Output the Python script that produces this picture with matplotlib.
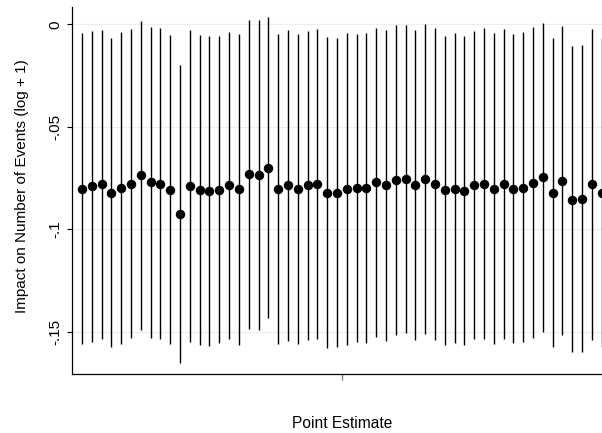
import numpy as np
import matplotlib
matplotlib.use('Agg')
import matplotlib.pyplot as plt

plt.rcParams['font.family'] = ['Liberation Sans', 'DejaVu Sans']

# Point estimates and confidence bounds
estimate = [-0.0802, -0.0791, -0.0781, -0.0822, -0.0799, -0.0778, -0.0737, -0.0770, -0.0778, -0.0807,
            -0.0927, -0.0789, -0.0809, -0.0812, -0.0807, -0.0786, -0.0805, -0.0732, -0.0735, -0.0700,
            -0.0804, -0.0784, -0.0804, -0.0786, -0.0779, -0.0822, -0.0822, -0.0804, -0.0800, -0.0800,
            -0.0771, -0.0786, -0.0761, -0.0755, -0.0786, -0.0757, -0.0779, -0.0810, -0.0802, -0.0812,
            -0.0784, -0.0778, -0.0802, -0.0778, -0.0802, -0.0797, -0.0773, -0.0745, -0.0822, -0.0763,
            -0.0856, -0.0854, -0.0781, -0.0822]
upper = [-0.0041, -0.0031, -0.0028, -0.0068, -0.0037, -0.0023, 0.0016, -0.0013, -0.0020, -0.0054,
         -0.0200, -0.0029, -0.0050, -0.0055, -0.0055, -0.0037, -0.0047, 0.0021, 0.0020, 0.0034,
         -0.0046, -0.0028, -0.0046, -0.0033, -0.0024, -0.0060, -0.0067, -0.0044, -0.0046, -0.0044,
         -0.0018, -0.0028, -0.0005, -0.0002, -0.0029, 0.0000, -0.0020, -0.0055, -0.0042, -0.0057,
         -0.0033, -0.0020, -0.0044, -0.0023, -0.0049, -0.0039, -0.0015, 0.0008, -0.0067, -0.0008,
         -0.0107, -0.0102, -0.0023, -0.0068]
lower = [-0.1562, -0.1552, -0.1536, -0.1573, -0.1559, -0.1533, -0.1492, -0.1529, -0.1537, -0.1560,
         -0.1653, -0.1550, -0.1563, -0.1570, -0.1557, -0.1537, -0.1563, -0.1485, -0.1493, -0.1435,
         -0.1559, -0.1544, -0.1562, -0.1541, -0.1536, -0.1581, -0.1573, -0.1563, -0.1552, -0.1554,
         -0.1526, -0.1546, -0.1516, -0.1506, -0.1542, -0.1510, -0.1539, -0.1567, -0.1557, -0.1565,
         -0.1537, -0.1536, -0.1559, -0.1534, -0.1555, -0.1550, -0.1529, -0.1502, -0.1576, -0.1516,
         -0.1602, -0.1602, -0.1539, -0.1573]
yticks = [0, -0.05, -0.1, -0.15]
ytick_labels = ['0', '-.05', '-.1', '-.15']

x = np.arange(1, len(estimate) + 1)

fig = plt.figure(figsize=(6.02, 4.33), dpi=100)
ax = fig.add_axes([72 / 602, 1 - 374 / 433, 530 / 602, 367 / 433])

ax.vlines(x, lower, upper, color='black', linewidth=1.0, zorder=2)
ax.plot(x, estimate, 'o', color='black', markersize=5.8, zorder=3)

ax.set_ylim(-0.1707, 0.00846)
ax.set_xlim(-0.02, len(estimate) + 0.03)

ax.set_yticks(yticks)
ax.set_yticklabels(ytick_labels, rotation=90, va='center', fontsize=11)
ax.grid(axis='y', color='#e6eff1', linewidth=0.8, zorder=0)
ax.set_axisbelow(True)

ax.set_xticks([(1 + len(estimate)) / 2])
ax.set_xticklabels([''])
ax.tick_params(axis='x', length=4.3, color='#777777', width=0.9)
ax.tick_params(axis='y', length=3.6, width=0.8, pad=3.5)

for side in ['top', 'right']:
    ax.spines[side].set_visible(False)
for side in ['left', 'bottom']:
    ax.spines[side].set_linewidth(0.9)

ax.set_ylabel('Impact on Number of Events (log + 1)', fontsize=11)
ax.yaxis.set_label_coords(-0.081, 0.513)
fig.text(341.7 / 602, 4.7 / 433, 'Point Estimate', ha='center', va='baseline', fontsize=11.2)

fig.savefig('out.png', dpi=100)
